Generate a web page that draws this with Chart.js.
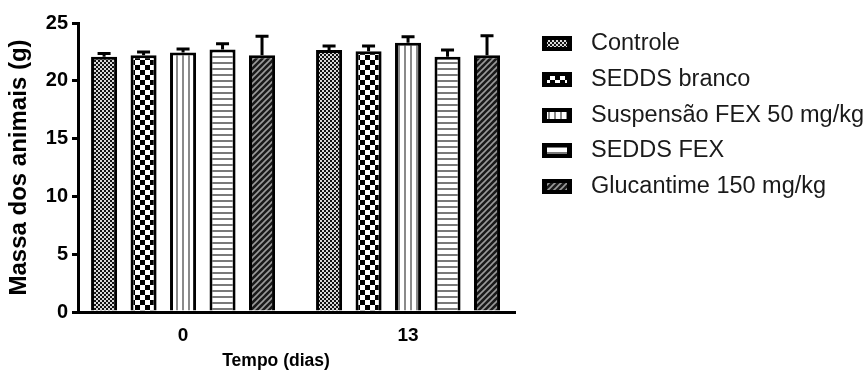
<!DOCTYPE html>
<html><head><meta charset="utf-8">
<script src="https://cdn.jsdelivr.net/npm/chart.js@4.4.0/dist/chart.umd.min.js"></script>
<style>html,body{margin:0;padding:0;background:#fff;}#wrap{width:866px;height:372px;}</style>
</head><body><div id="wrap"><canvas id="c" width="866" height="372"></canvas></div>
<script>
// ---- data ----
const days = [0, 13];
const tickLabels = ['0', '13'];
const seriesNames = ['Controle', 'SEDDS branco', 'Suspensão FEX 50 mg/kg', 'SEDDS FEX', 'Glucantime 150 mg/kg'];
const controle    = [22.07, 22.67];
const seddsBranco = [22.20, 22.56];
const suspensao   = [22.45, 23.30];
const seddsFex    = [22.70, 22.07];
const glucantime  = [22.20, 22.20];
const controleSD    = [0.30, 0.35];
const seddsBrancoSD = [0.30, 0.45];
const suspensaoSD   = [0.30, 0.50];
const seddsFexSD    = [0.50, 0.60];
const glucantimeSD  = [1.65, 1.70];
const xTitle = 'Tempo (dias)';
const yTitle = 'Massa dos animais (g)';

const values = [controle, seddsBranco, suspensao, seddsFex, glucantime];
const sds = [controleSD, seddsBrancoSD, suspensaoSD, seddsFexSD, glucantimeSD];

const FONT = '"Liberation Sans", Arial, Helvetica, sans-serif';

// ---- patterns ----
function tile(w, h, draw) {
  const c = document.createElement('canvas');
  c.width = w; c.height = h;
  const g = c.getContext('2d');
  draw(g, w, h);
  return document.getElementById('c').getContext('2d').createPattern(c, 'repeat');
}
const patterns = [
  tile(4, 4, (g) => { g.fillStyle = '#111'; g.fillRect(0,0,4,4); g.fillStyle = '#d8d8d8'; g.fillRect(0,0,2,2); g.fillRect(2,2,2,2); }),
  tile(10, 10, (g) => { g.fillStyle = '#fff'; g.fillRect(0,0,10,10); g.fillStyle = '#000'; g.fillRect(0,0,5,5); g.fillRect(5,5,5,5); }),
  tile(6, 6, (g) => { g.fillStyle = '#fff'; g.fillRect(0,0,6,6); g.fillStyle = '#8a8a8a'; g.fillRect(2,0,2,6); }),
  tile(6, 6, (g) => { g.fillStyle = '#fff'; g.fillRect(0,0,6,6); g.fillStyle = '#7a7a7a'; g.fillRect(0,2,6,2); }),
  tile(6, 6, (g) => { g.fillStyle = '#1a1a1a'; g.fillRect(0,0,6,6); g.strokeStyle = '#9a9a9a'; g.lineWidth = 1.6;
    g.beginPath(); g.moveTo(-1,7); g.lineTo(7,-1); g.moveTo(-4,4); g.lineTo(4,-4); g.moveTo(2,10); g.lineTo(10,2); g.stroke(); })
];

const datasets = seriesNames.map((name, di) => ({
  label: name,
  data: days.map((d, i) => ({x: d, y: values[di][i]})),
  backgroundColor: patterns[di],
  borderColor: '#000',
  borderWidth: 3,
  borderSkipped: 'start',
  categoryPercentage: 0.8775,
  barPercentage: 0.66
}));

const errorBars = {
  id: 'errorBars',
  afterDatasetsDraw(chart) {
    const ctx = chart.ctx, y = chart.scales.y;
    ctx.save();
    ctx.strokeStyle = '#000';
    ctx.lineWidth = 3;
    chart.data.datasets.forEach((ds, di) => {
      const meta = chart.getDatasetMeta(di);
      meta.data.forEach((bar, i) => {
        const v = values[di][i], sd = sds[di][i];
        const yb = y.getPixelForValue(v), yt = y.getPixelForValue(v + sd);
        ctx.beginPath();
        ctx.moveTo(bar.x, yb); ctx.lineTo(bar.x, yt);
        ctx.moveTo(bar.x - 6.5, yt); ctx.lineTo(bar.x + 6.5, yt);
        ctx.stroke();
      });
    });
    ctx.restore();
  }
};

const extras = {
  id: 'extras',
  afterDraw(chart) {
    const ctx = chart.ctx;
    ctx.save();
    // x axis title
    ctx.fillStyle = '#000';
    ctx.font = 'bold 17.5px ' + FONT;
    ctx.textAlign = 'center';
    ctx.textBaseline = 'middle';
    ctx.fillText(xTitle, 276, 361);
    // legend
    const x0 = 542, rows = [43, 79, 115, 150, 186];
    seriesNames.forEach((name, i) => {
      const cy = rows[i];
      ctx.fillStyle = '#000';
      ctx.fillRect(x0, cy - 7, 30, 15);
      ctx.fillStyle = patterns[i];
      ctx.fillRect(x0 + 5, cy - 3, 20, 7);
      ctx.fillStyle = '#1a1a1a';
      ctx.font = '23.5px ' + FONT;
      ctx.textAlign = 'left';
      ctx.fillText(name, 591, cy + 1);
    });
    ctx.restore();
  }
};

new Chart(document.getElementById('c'), {
  type: 'bar',
  data: { datasets },
  plugins: [errorBars, extras],
  options: {
    responsive: false,
    animation: false,
    devicePixelRatio: 1,
    layout: { padding: { top: 23, right: 351, bottom: 0, left: 0 } },
    plugins: { legend: { display: false }, tooltip: { enabled: false } },
    scales: {
      x: {
        type: 'linear', min: -6.07, max: 19.18, offset: false,
        afterBuildTicks: (s) => { s.ticks = days.map(v => ({ value: v })); },
        ticks: { callback: (v, i) => tickLabels[i], color: '#000', font: { family: FONT, size: 19, weight: 'bold' }, padding: 12, maxRotation: 0, autoSkip: false },
        grid: { display: false, drawTicks: false },
        border: { display: true, color: '#000', width: 3 },
        afterFit: (s) => { s.height = 60; }
      },
      y: {
        min: 0, max: 25,
        ticks: { stepSize: 5, color: '#000', font: { family: FONT, size: 20, weight: 'bold' }, padding: 4 },
        grid: { drawOnChartArea: false, drawTicks: true, tickLength: 6, lineWidth: 3, tickWidth: 3, color: '#000' },
        border: { display: true, color: '#000', width: 3 },
        title: { display: true, text: yTitle, color: '#000', font: { family: FONT, size: 24, weight: 'bold' }, padding: { top: 5, bottom: 0 } },
        afterFit: (s) => { s.width = 78; }
      }
    }
  }
});
</script></body></html>
